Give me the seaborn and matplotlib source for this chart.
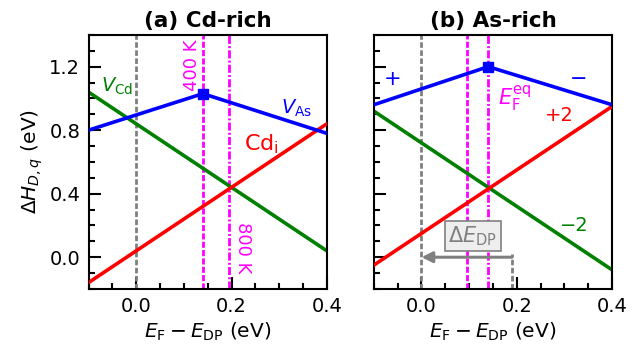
import numpy as np
import pandas as pd
import matplotlib
matplotlib.use("Agg")
import matplotlib.pyplot as plt
import seaborn as sns
from matplotlib.ticker import MultipleLocator

sns.set_style("ticks")
plt.rcParams['font.family'] = ['DejaVu Sans']
plt.rcParams['mathtext.fontset'] = 'dejavusans'
for k in ['text.color', 'axes.labelcolor', 'xtick.color', 'ytick.color', 'axes.edgecolor']:
    plt.rcParams[k] = 'black'

# ---- data ----
x_ends = [-0.1, 0.4]
x_vas = [-0.1, 0.14, 0.4]
a_vcd = [1.04, 0.04]
a_cdi = [-0.16, 0.84]
a_vas = [0.80, 1.03, 0.78]
b_vcd = [0.92, -0.08]
b_cdi = [-0.05, 0.95]
b_vas = [0.96, 1.20, 0.96]
a_vlines = [0.0, 0.14, 0.195]   # E_DP, 400 K, 800 K
b_vlines = [0.0, 0.095, 0.14]   # E_DP, 400 K (dotted), E_F^eq
delta_edp = 0.19
titles = ["(a) Cd-rich", "(b) As-rich"]

fig = plt.figure(figsize=(6.39, 3.49), dpi=100)
axa = fig.add_axes([0.1385, 0.172, 0.373, 0.728])
axb = fig.add_axes([0.585, 0.172, 0.373, 0.728])

GRAY_DASH = (0, (2.0, 0.9))
DOT = (0, (2.2, 0.8))
DASHDOT = (0, (2.9, 0.8, 0.7, 0.8))

def draw(ax, vcd, cdi, vas, vl):
    ax.axvline(vl[0], color='gray', ls=GRAY_DASH, lw=2.0, zorder=1)
    ax.axvline(vl[1], color='magenta', ls=DOT, lw=2.0, zorder=1)
    ax.axvline(vl[2], color='magenta', ls=DASHDOT, lw=2.0, zorder=1)
    df1 = pd.DataFrame({'x': x_ends, 'y': vcd})
    df2 = pd.DataFrame({'x': x_ends, 'y': cdi})
    df3 = pd.DataFrame({'x': x_vas, 'y': vas})
    sns.lineplot(data=df1, x='x', y='y', color='green', lw=2.6, ax=ax, zorder=2)
    sns.lineplot(data=df2, x='x', y='y', color='red', lw=2.6, ax=ax, zorder=3)
    sns.lineplot(data=df3, x='x', y='y', color='blue', lw=2.6, ax=ax, zorder=4)
    ax.plot([x_vas[1]], [vas[1]], 's', color='blue', ms=7, zorder=5)
    ax.set_xlim(-0.1, 0.4)
    ax.set_ylim(-0.2, 1.4)
    ax.xaxis.set_major_locator(MultipleLocator(0.2))
    ax.xaxis.set_minor_locator(MultipleLocator(0.05))
    ax.yaxis.set_major_locator(MultipleLocator(0.4))
    ax.yaxis.set_minor_locator(MultipleLocator(0.1))
    ax.tick_params(which='both', direction='in', top=False, right=False, labelsize=14, width=1.5, pad=6)
    ax.tick_params(which='major', length=8.5)
    ax.tick_params(which='minor', length=4.5)
    for s in ax.spines.values():
        s.set_linewidth(1.5)
    ax.set_xlabel(r'$E_\mathrm{F} - E_\mathrm{DP}$ (eV)', fontsize=14.5, labelpad=3)

draw(axa, a_vcd, a_cdi, a_vas, a_vlines)
draw(axb, b_vcd, b_cdi, b_vas, b_vlines)

axa.set_ylabel(r'$\Delta H_{D,q}$ (eV)', fontsize=14.5, labelpad=3)
axb.set_ylabel('')
axb.set_yticklabels([])
axa.set_title(titles[0], fontsize=15.5, fontweight='bold', pad=6)
axb.set_title(titles[1], fontsize=15.5, fontweight='bold', pad=6)

# annotations panel (a)
axa.text(-0.04, 1.075, r'$V_\mathrm{Cd}$', color='green', fontsize=14, ha='center', va='center')
axa.text(0.337, 0.935, r'$V_\mathrm{As}$', color='blue', fontsize=14, ha='center', va='center')
axa.text(0.262, 0.71, r'Cd$_\mathrm{i}$', color='red', fontsize=16, ha='center', va='center')
axa.text(0.118, 1.21, '400 K', color='magenta', fontsize=13, rotation=90, ha='center', va='center')
axa.text(0.225, 0.06, '800 K', color='magenta', fontsize=13, rotation=-90, ha='center', va='center')

# annotations panel (b)
axb.text(-0.06, 1.12, '+', color='blue', fontsize=15, ha='center', va='center')
axb.text(0.33, 1.12, '\u2212', color='blue', fontsize=15, ha='center', va='center')
axb.text(0.195, 1.0, r'$E_\mathrm{F}^\mathrm{eq}$', color='magenta', fontsize=15, ha='center', va='center')
axb.text(0.29, 0.89, '+2', color='red', fontsize=14, ha='center', va='center')
axb.text(0.32, 0.2, '\u22122', color='green', fontsize=14, ha='center', va='center')
axb.plot([delta_edp, delta_edp], [-0.2, 0.02], color='gray', ls=GRAY_DASH, lw=2.0, zorder=1)
axb.annotate('', xy=(0.0, 0.0), xytext=(delta_edp, 0.0),
             arrowprops=dict(arrowstyle='-|>', color='gray', lw=2.2, mutation_scale=16, shrinkA=0, shrinkB=0))
axb.text(0.108, 0.133, r'$\Delta E_\mathrm{DP}$', color='gray', fontsize=15, ha='center', va='center',
         bbox=dict(boxstyle='square,pad=0.15', fc='#eeeeee', ec='gray', lw=1.2))

fig.savefig('out.png', dpi=100)
